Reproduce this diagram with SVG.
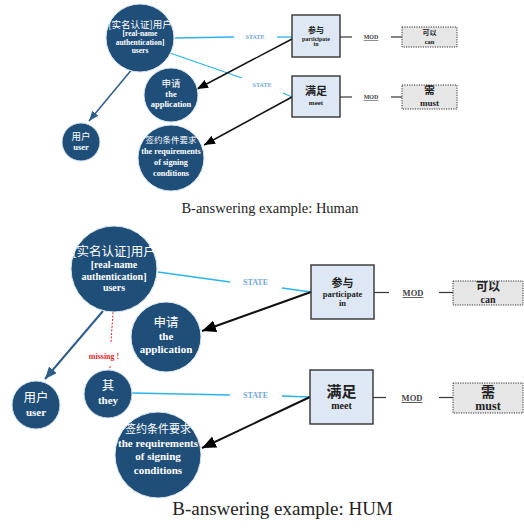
<svg xmlns="http://www.w3.org/2000/svg" width="524" height="530" viewBox="0 0 524 530">
<style>
.c{fill:#1f4e79;stroke:#d6e4f0;stroke-width:1}
.box{fill:#dde8f4;stroke:#333;stroke-width:1.4}
.dot{fill:#e6e6e6;stroke:#333;stroke-width:1;stroke-dasharray:1.2 1.2}
.w{fill:#fff;font-family:"Liberation Serif","Noto Sans CJK SC",serif;font-weight:bold;text-anchor:middle}
.wc{fill:#fff;font-family:"Noto Sans CJK SC",sans-serif;text-anchor:middle}
.k{fill:#222;font-family:"Liberation Serif","Noto Sans CJK SC",serif;font-weight:bold;text-anchor:middle}
.kc{fill:#222;font-family:"Noto Sans CJK SC",sans-serif;font-weight:bold;text-anchor:middle}
.st{fill:#6fa8dc;font-family:"Liberation Serif",serif;font-weight:bold;text-anchor:middle}
.mod{fill:#444;font-family:"Liberation Serif",serif;font-weight:bold;text-anchor:middle;text-decoration:underline}
.cy{stroke:#2ab4ee;fill:none}
.ml{stroke:#333;stroke-width:1.2}
.cap{fill:#222;font-family:"Liberation Serif",serif;text-anchor:middle}
</style>
<defs>
<marker id="ab" markerUnits="userSpaceOnUse" markerWidth="14" markerHeight="12" viewBox="0 0 14 12" refX="14" refY="6" orient="auto"><path d="M0,0 L14,6 L0,12 z" fill="#000"/></marker>
<marker id="abs" markerUnits="userSpaceOnUse" markerWidth="11" markerHeight="9" viewBox="0 0 11 9" refX="11" refY="4.5" orient="auto"><path d="M0,0 L11,4.5 L0,9 z" fill="#000"/></marker>
<marker id="au" markerUnits="userSpaceOnUse" markerWidth="12" markerHeight="10" viewBox="0 0 12 10" refX="12" refY="5" orient="auto"><path d="M0,0 L12,5 L0,10 z" fill="#2e5d8a"/></marker>
<marker id="aus" markerUnits="userSpaceOnUse" markerWidth="10" markerHeight="8" viewBox="0 0 10 8" refX="10" refY="4" orient="auto"><path d="M0,0 L10,4 L0,8 z" fill="#2e5d8a"/></marker>
</defs>

<g id="connectors">
<!-- top -->
<line class="cy" x1="175" y1="38" x2="234" y2="37" stroke-width="1.3"/>
<line class="cy" x1="277" y1="37" x2="292" y2="37" stroke-width="1.3"/>
<line class="cy" x1="170" y1="53" x2="242" y2="78" stroke-width="1.3"/>
<line class="cy" x1="283" y1="93" x2="292" y2="97" stroke-width="1.3"/>
<text class="st" x="255" y="39" font-size="6">STATE</text>
<text class="st" x="262" y="87" font-size="6">STATE</text>
<line x1="292" y1="39" x2="197" y2="89" stroke="#111" stroke-width="1.5" marker-end="url(#abs)"/>
<line x1="292" y1="97" x2="204" y2="145" stroke="#111" stroke-width="1.5" marker-end="url(#abs)"/>
<line x1="133" y1="68" x2="89" y2="121" stroke="#2e5d8a" stroke-width="1.5" marker-end="url(#aus)"/>
<line class="ml" x1="340" y1="37" x2="352" y2="37"/>
<line class="ml" x1="391" y1="37" x2="402" y2="37"/>
<line class="ml" x1="340" y1="97" x2="352" y2="97"/>
<line class="ml" x1="391" y1="97" x2="402" y2="97"/>
<text class="mod" x="371" y="39" font-size="6">MOD</text>
<text class="mod" x="371" y="99" font-size="6">MOD</text>
<!-- bottom -->
<line class="cy" x1="158" y1="272" x2="230" y2="282" stroke-width="1.5"/>
<line class="cy" x1="282" y1="288" x2="311" y2="292" stroke-width="1.5"/>
<line class="cy" x1="132" y1="393" x2="230" y2="395" stroke-width="1.5"/>
<line class="cy" x1="282" y1="396" x2="310" y2="397" stroke-width="1.5"/>
<text class="st" x="255.5" y="285" font-size="8">STATE</text>
<text class="st" x="255.5" y="398" font-size="8">STATE</text>
<line x1="311" y1="292" x2="202" y2="331" stroke="#111" stroke-width="2" marker-end="url(#ab)"/>
<line x1="310" y1="397" x2="202" y2="448" stroke="#111" stroke-width="2" marker-end="url(#ab)"/>
<line x1="103" y1="311" x2="45" y2="379" stroke="#2e5d8a" stroke-width="2" marker-end="url(#au)"/>
<line class="ml" x1="374" y1="292.5" x2="389" y2="292.5"/>
<line class="ml" x1="439" y1="292.5" x2="453" y2="292.5"/>
<line class="ml" x1="373" y1="397.5" x2="386" y2="397.5"/>
<line class="ml" x1="439" y1="397.5" x2="453" y2="397.5"/>
<text class="mod" x="413" y="296" font-size="8.5">MOD</text>
<text class="mod" x="412" y="401" font-size="8.5">MOD</text>
<line x1="113" y1="312" x2="111" y2="343" stroke="#e8282b" stroke-width="1" stroke-dasharray="2 1.5"/>
<line x1="110" y1="366" x2="110" y2="370" stroke="#e8282b" stroke-width="1" stroke-dasharray="2 1.5"/>
<text x="104" y="359" font-size="8" fill="#e8282b" font-family="Liberation Serif, serif" font-weight="bold" text-anchor="middle">missing !</text>
</g>

<!-- top diagram nodes -->
<g id="t-auth">
<circle class="c" cx="140" cy="38" r="34"/>
<text class="wc" x="140" y="27.5" font-size="9.5">[实名认证]用户</text>
<text class="w" x="140" y="36" font-size="7.5">[real-name</text>
<text class="w" x="140" y="44.5" font-size="7.5">authentication]</text>
<text class="w" x="140" y="53" font-size="7.5">users</text>
</g>
<g id="t-app">
<circle class="c" cx="171" cy="95" r="27"/>
<text class="wc" x="171" y="86.5" font-size="9.5">申请</text>
<text class="w" x="171" y="96.5" font-size="8.5">the</text>
<text class="w" x="171" y="107" font-size="8.5">application</text>
</g>
<g id="t-user">
<circle class="c" cx="81" cy="142" r="19"/>
<text class="wc" x="81" y="139.5" font-size="9.5">用户</text>
<text class="w" x="81" y="149.5" font-size="8.5">user</text>
</g>
<g id="t-req">
<circle class="c" cx="171" cy="158" r="33"/>
<text class="wc" x="171" y="142.5" font-size="8.5">签约条件要求</text>
<text class="w" x="171" y="154" font-size="8.2">the requirements</text>
<text class="w" x="171" y="165" font-size="8.2">of signing</text>
<text class="w" x="171" y="175.5" font-size="8.2">conditions</text>
</g>
<g id="t-part">
<rect class="box" x="292" y="15" width="48" height="42"/>
<text class="kc" x="316" y="33" font-size="8">参与</text>
<text class="k" x="316" y="40.5" font-size="6">participate</text>
<text class="k" x="316" y="46" font-size="6">in</text>
</g>
<g id="t-meet">
<rect class="box" x="292" y="76" width="48" height="41"/>
<text class="kc" x="316" y="95" font-size="11">满足</text>
<text class="k" x="316" y="104.5" font-size="7">meet</text>
</g>
<g id="t-can">
<rect class="dot" x="402" y="27" width="55" height="20"/>
<text class="kc" x="429.5" y="34.5" font-size="7">可以</text>
<text class="k" x="429.5" y="44" font-size="6.5">can</text>
</g>
<g id="t-must">
<rect class="dot" x="402" y="85" width="55" height="24"/>
<text class="kc" x="429.5" y="93.5" font-size="10.5">需</text>
<text class="k" x="429.5" y="106" font-size="9">must</text>
</g>
<text class="cap" x="270" y="213" font-size="14.5">B-answering example: Human</text>

<!-- bottom diagram nodes -->
<g id="b-auth">
<circle class="c" cx="114" cy="269" r="43"/>
<text class="wc" x="114" y="256" font-size="12.5">[实名认证]用户</text>
<text class="w" x="114" y="268" font-size="10">[real-name</text>
<text class="w" x="114" y="280" font-size="10">authentication]</text>
<text class="w" x="114" y="291" font-size="10">users</text>
</g>
<g id="b-app">
<circle class="c" cx="166" cy="337" r="35"/>
<text class="wc" x="166" y="326.5" font-size="12.5">申请</text>
<text class="w" x="166" y="340" font-size="11">the</text>
<text class="w" x="166" y="353" font-size="11">application</text>
</g>
<g id="b-user">
<circle class="c" cx="36" cy="405" r="24"/>
<text class="wc" x="36" y="401.5" font-size="12.5">用户</text>
<text class="w" x="36" y="416" font-size="11">user</text>
</g>
<g id="b-they">
<circle class="c" cx="108" cy="394" r="24"/>
<text class="wc" x="108" y="389.5" font-size="12.5">其</text>
<text class="w" x="108" y="404" font-size="11">they</text>
</g>
<g id="b-req">
<circle class="c" cx="158" cy="455" r="43"/>
<text class="wc" x="158" y="432.5" font-size="11">签约条件要求</text>
<text class="w" x="158" y="447" font-size="11">the requirements</text>
<text class="w" x="158" y="460" font-size="11">of signing</text>
<text class="w" x="158" y="474" font-size="11">conditions</text>
</g>
<g id="b-part">
<rect class="box" x="311" y="265" width="63" height="54"/>
<text class="kc" x="342.5" y="287" font-size="11">参与</text>
<text class="k" x="342.5" y="296.5" font-size="8.5">participate</text>
<text class="k" x="342.5" y="306" font-size="8.5">in</text>
</g>
<g id="b-meet">
<rect class="box" x="310" y="370" width="63" height="54"/>
<text class="kc" x="341.5" y="397" font-size="15">满足</text>
<text class="k" x="341.5" y="408.5" font-size="10">meet</text>
</g>
<g id="b-can">
<rect class="dot" x="453" y="281" width="70" height="24"/>
<text class="kc" x="488" y="291" font-size="12">可以</text>
<text class="k" x="488" y="302.5" font-size="10">can</text>
</g>
<g id="b-must">
<rect class="dot" x="453" y="383" width="70" height="30"/>
<text class="kc" x="488" y="396.5" font-size="14">需</text>
<text class="k" x="488" y="410" font-size="12">must</text>
</g>
<text class="cap" x="282.5" y="515" font-size="19">B-answering example: HUM</text>
</svg>
